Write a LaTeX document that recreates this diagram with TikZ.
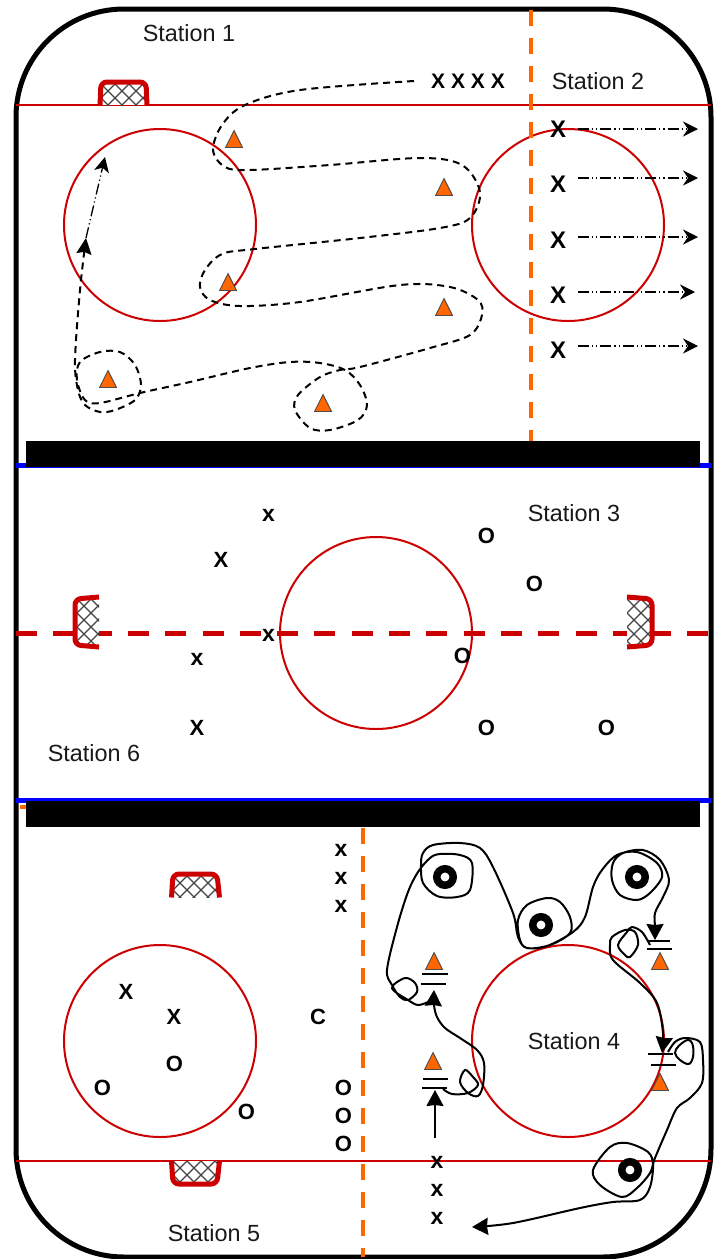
\documentclass[tikz,border=0pt]{standalone}
\usepackage{fontspec}
\setmainfont{Liberation Sans}
\usetikzlibrary{arrows.meta}
\definecolor{rinkred}{HTML}{CC0000}
\definecolor{rinkblue}{HTML}{0000FF}
\definecolor{coneorange}{HTML}{FF6600}
\definecolor{netgrey}{HTML}{444444}
\newcommand{\netfill}[4]{%
  \begin{scope}
    \clip (#1,#2) rectangle (#3,#4);
    \fill[white] (#1,#2) rectangle (#3,#4);
    \foreach \k in {-4,...,8}{
      \draw[netgrey,line width=1.1pt] ({#1+\k*14},#2) -- ++(70,70);
      \draw[netgrey,line width=1.1pt] ({#1+\k*14},#2) -- ++(-70,70);
    }
  \end{scope}}
\tikzset{
  x=1pt,y=-1pt,
  rink/.style={draw=black,line width=5pt,fill=white,rounded corners=108pt},
  redline/.style={draw=rinkred,line width=2.4pt},
  centreline/.style={draw=rinkred,line width=5pt,dash pattern=on 21pt off 16.3pt},
  stationline/.style={draw=coneorange,line width=4pt,dash pattern=on 16pt off 12pt},
  blueline/.style={draw=rinkblue,line width=5pt},
  bar/.style={fill=black,draw=none},
  faceoff/.style={draw=rinkred,line width=2pt,circle,minimum size=192pt,inner sep=0pt,outer sep=0pt},
  goalframe/.style={draw=rinkred,line width=5pt,rounded corners=6pt},
  label/.style={font=\fontsize{23.4}{23.4}\selectfont,inner sep=0pt,text=black!90},
  bigp/.style={font=\fontsize{24}{24}\selectfont\bfseries,inner sep=0pt},
  medp/.style={font=\fontsize{22}{22}\selectfont\bfseries,inner sep=0pt},
  lowp/.style={font=\fontsize{23}{23}\selectfont\bfseries,inner sep=0pt},
  cone/.pic={\draw[fill=coneorange,draw=black!70,line width=0.9pt] (-8.5,8.5) -- (0,-8.5) -- (8.5,8.5) -- cycle;},
  puck/.style={circle,draw=black,line width=7.5pt,minimum size=16.5pt,inner sep=0pt,fill=white},
  pairline/.style={draw=black,line width=2pt},
  dashcurve/.style={draw=black,line width=2pt,dash pattern=on 7pt off 5pt,-{Stealth[length=16pt,width=15pt,inset=2pt]}},
  dotarrow/.style={draw=black,line width=1.3pt,dash pattern=on 11pt off 3pt on 1.2pt off 3pt on 1.2pt off 3pt,-{Stealth[length=15pt,width=15pt,inset=5pt]}},
  solidcurve/.style={draw=black,line width=2pt},
  solidarrow/.style={draw=black,line width=2pt,-{Stealth[length=16pt,width=17pt,inset=1pt]}},
}
\begin{document}
\begin{tikzpicture}
\useasboundingbox (0,0) rectangle (721,1259);
\fill[white] (0,0) rectangle (721,1259);
\path[rink] (16,9) rectangle (711,1257);

% lines
\draw[redline] (16,105) -- (711,105);
\draw[redline] (16,1161) -- (711,1161);
\draw[blueline] (16,465) -- (711.5,465);
\draw[blueline] (16,800.5) -- (711.5,800.5);
\draw[stationline] (20,806.5) -- (32,806.5);
\fill[bar] (26,441) rectangle (700,466.5);
\fill[bar] (26,801) rectangle (700,827);
\draw[centreline] (16,633) -- (709,633);

% face-off circles
\node[faceoff] (c1) at (160,225) {};
\node[faceoff] (c2) at (568,225) {};
\node[faceoff] (c3) at (376,633) {};
\node[faceoff] (c4) at (160,1041) {};
\node[faceoff] (c5) at (568,1041) {};

% station dividers
\draw[stationline] (531,10) -- (531,441);
\draw[stationline] (363,828) -- (363,1257);

% goals
\netfill{101}{84}{146}{105}
\draw[goalframe] (100,105) -- (101,82) -- (146,82) -- (147,105);
\netfill{173}{876}{218}{897}
\draw[goalframe] (171.5,897.5) -- (173,874) -- (217,874) -- (219.5,897.5);
\netfill{173}{1161}{218}{1183}
\draw[goalframe] (171.5,1161) -- (173,1184) -- (217,1184) -- (219.5,1161);
\netfill{77}{599}{99}{644}
\draw[goalframe] (99,597) -- (75,599) -- (75,645) -- (99,647);
\netfill{627}{599}{650}{644}
\draw[goalframe] (627,597) -- (652,599) -- (652,645) -- (627,647);

% cones
\foreach \n/\x/\y in {a/234/139,b/444/187,d/228/282,e/444/307,f/108/379,g/323/403,h/434/961,i/660/961,j/433/1061,k/660/1082}
  \pic (cone\n) at (\x,\y) {cone};

% pucks
\node[puck] (p1) at (445,877) {};
\node[puck] (p2) at (541,925) {};
\node[puck] (p3) at (637,877) {};
\node[puck] (p4) at (630,1170) {};

% paired lines
\draw[pairline] (422,974) -- (448,974);
\draw[pairline] (421,984) -- (446,984);
\draw[pairline] (647,941) -- (670,941);
\draw[pairline] (647,949) -- (672,949);
\draw[pairline] (423,1079) -- (448,1079);
\draw[pairline] (422,1088) -- (447,1088);
\draw[pairline] (648,1054) -- (673,1054);
\draw[pairline] (651,1065) -- (676,1065);

% labels
\node[label] (s1) at (189,33) {Station 1};
\node[label] (s2) at (598,81) {Station 2};
\node[label] (s3) at (574,513) {Station 3};
\node[label] (s4) at (574,1041) {Station 4};
\node[label] (s5) at (214,1233) {Station 5};
\node[label] (s6) at (94,753) {Station 6};

% players
\node[medp,font=\fontsize{21}{21}\selectfont\bfseries] (q0) at (468,81) {X X X X};
\foreach \n/\y in {1/129,2/184,3/240,4/295,5/350}
  \node[bigp] (r\n) at (558,\y) {X};
\coordinate (aS1) at (578,129); \coordinate (aE1) at (698,129);
\coordinate (aS2) at (578,178); \coordinate (aE2) at (698,178);
\coordinate (aS3) at (578,237); \coordinate (aE3) at (698,237);
\coordinate (aS4) at (578,292); \coordinate (aE4) at (695,292);
\coordinate (aS5) at (578,346); \coordinate (aE5) at (698,346);
\foreach \n in {1,...,5}
  \draw[dotarrow] (aS\n) -- (aE\n);

\node[lowp] (m1) at (268.5,515) {x};
\node[medp] (m2) at (221,560) {X};
\node[lowp] (m3) at (268.5,635) {x};
\node[lowp] (m4) at (197,659) {x};
\node[medp] (m5) at (197,728) {X};
\node[medp] (m6) at (486.5,536) {O};
\node[medp] (m7) at (534.5,584) {O};
\node[medp] (m8) at (462.5,656) {O};
\node[medp] (m9) at (486.5,728) {O};
\node[medp] (m10) at (606.5,728) {O};

\node[lowp] (b1) at (341,850) {x};
\node[lowp] (b2) at (341,878) {x};
\node[lowp] (b3) at (341,906) {x};
\node[medp] (b4) at (318,1017) {C};
\node[medp] (b5) at (343.5,1088) {O};
\node[medp] (b6) at (343.5,1116) {O};
\node[medp] (b7) at (343.5,1144) {O};
\node[medp] (b8) at (126,992) {X};
\node[medp] (b9) at (174,1017) {X};
\node[medp] (b10) at (174.5,1064) {O};
\node[medp] (b11) at (102.5,1088) {O};
\node[medp] (b12) at (246.5,1112) {O};
\node[lowp] (t1) at (437,1162) {x};
\node[lowp] (t2) at (437,1190) {x};
\node[lowp] (t3) at (437,1218) {x};

% station 1 route
\coordinate (rStart) at (414,81);
\coordinate (rTurn) at (86,238);
\coordinate (rEnd) at (105,157);
\draw[dashcurve] plot[smooth,tension=0.55] coordinates {(rStart) (300,90) (245,105) (222,125) (213,150) (225,167) (250,170) (330,165) (420,158) (462,165) (480,192) (470,218) (440,228) (360,238) (255,249) (222,254) (205,270) (200,287) (210,300) (240,306) (300,302) (400,285) (450,287) (478,300) (482,315) (470,335) (430,348) (360,367) (340,370) (320,377) (298,395) (295,410) (310,428) (330,430) (358,420) (367,405) (360,385) (345,370) (320,363) (290,362) (250,368) (190,382) (140,393) (100,403) (85,400) (77,380) (80,362) (100,352) (120,352) (135,365) (141,385) (135,400) (115,410) (100,412) (85,405) (78,390) (75,360) (80,290) (rTurn)};
\draw[dotarrow,-{Stealth[length=15pt,width=15pt,inset=4pt]}] (rTurn) -- (rEnd);

% station 4 routes
\coordinate (eA) at (435,1138);
\coordinate (eB) at (435,1090);
\draw[solidarrow] (eA) -- (eB);
\draw[solidarrow] plot[smooth,tension=0.55] coordinates {(443,1089) (452,1094) (468,1093) (478,1085) (473,1077) (465,1070) (460,1082) (468,1093) (478,1096) (483,1085) (484,1063) (477,1050) (460,1038) (445,1028) (437,1017) (434,1005) (434,990)};
\draw[solidarrow] plot[smooth,tension=0.55] coordinates {(428,1002) (418,1005) (408,1000) (392,988) (405,978) (415,983) (417,992) (408,1000) (400,997) (392,985) (387,970) (397,927) (408,892) (418,872) (430,858) (440,854) (460,855) (472,863) (470,890) (457,897) (437,896) (423,883) (421,865) (423,853) (433,845) (460,843) (480,848) (493,867) (513,913) (518,937) (527,948) (550,945) (570,933) (570,917) (560,902) (547,898) (527,905) (518,920) (520,940) (527,948) (547,946) (573,932) (585,917) (593,887) (602,870) (617,855) (637,852) (657,863) (662,877) (650,893) (637,900) (620,895) (612,880) (613,863) (623,853) (643,850) (660,860) (669,880) (663,897) (655,913) (655,927) (655,940)};
\draw[solidarrow] plot[smooth,tension=0.55] coordinates {(650,945) (642,932) (632,927) (627,932) (618,945) (625,955) (630,957) (638,945) (635,932) (625,930) (612,937) (610,945) (613,960) (640,983) (657,1003) (663,1033) (662,1053)};
\draw[solidarrow] plot[smooth,tension=0.55] coordinates {(668,1052) (675,1042) (685,1038) (700,1042) (703,1060) (702,1083) (690,1098) (677,1108) (667,1130) (655,1158) (650,1173) (637,1188) (622,1197) (600,1185) (593,1170) (610,1147) (627,1143) (648,1152) (653,1165) (650,1187) (640,1200) (613,1202) (580,1208) (513,1223) (472,1227)};
\draw[solidcurve] plot[smooth cycle,tension=0.7] coordinates {(685,1041) (675,1053) (687,1064) (693,1057) (692,1043)};
\end{tikzpicture}
\end{document}
